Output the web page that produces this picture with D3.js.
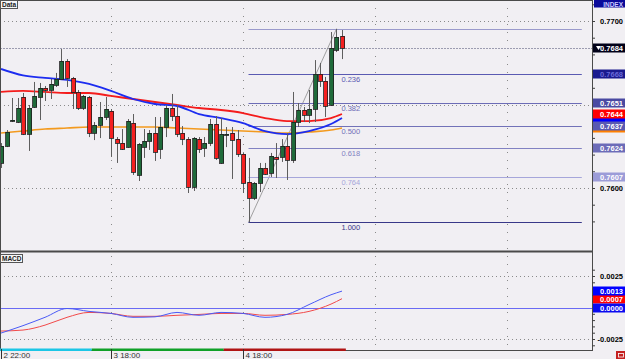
<!DOCTYPE html>
<meta charset="utf-8">
<style>
    body { margin: 0; background: #f1eff3; }
    svg { display: block; font-family: "Liberation Sans", Arial, sans-serif; }
    .wick { stroke: #5e5e5e; stroke-width: 1; }
    .body { stroke: #1e1e1e; stroke-width: 0.8; shape-rendering: crispEdges; }
    .grid { stroke: #8a8a8a; stroke-width: 1; }
    .axis path { display: none; }
    .axis line { stroke: #404040; }
    .axis text { font: bold 7.5px "Liberation Sans", Arial, sans-serif; fill: #000; }
    .tag text { font: bold 7.5px "Liberation Sans", Arial, sans-serif; }
    .fib text { font: 7.5px "Liberation Sans", Arial, sans-serif; }
    .time text { font: 8px "Liberation Sans", Arial, sans-serif; fill: #333; }
</style>

<body>
    <svg width="625" height="359"></svg>
    <script src="https://d3js.org/d3.v7.min.js"></script>
    <script>
        // hourly candles, index 0 = 2 22:00
        var openP = [0.76150, 0.76251, 0.76401, 0.76395, 0.76545, 0.76323, 0.76485, 0.76545, 0.76599, 0.76587,
            0.76617, 0.76653, 0.76760, 0.76659, 0.76575, 0.76479, 0.76545, 0.76329, 0.76377, 0.76425,
            0.76461, 0.76293, 0.76269, 0.76245, 0.76389, 0.76078, 0.76245, 0.76281, 0.76329, 0.76234,
            0.76365, 0.76479, 0.76431, 0.76329, 0.76293, 0.76006, 0.76293, 0.76240, 0.76269, 0.76383,
            0.76150, 0.76317, 0.76329, 0.76293, 0.76204, 0.76036, 0.75940, 0.76030, 0.76120, 0.76090,
            0.76186, 0.76186, 0.76251, 0.76168, 0.76395, 0.76467, 0.76437, 0.76473, 0.76683, 0.76641,
            0.76497, 0.76826, 0.76910];
        var highP = [0.76269, 0.76347, 0.76539, 0.76539, 0.76569, 0.76497, 0.76635, 0.76629, 0.76611, 0.76653,
            0.76689, 0.76832, 0.76772, 0.76665, 0.76587, 0.76557, 0.76551, 0.76395, 0.76515, 0.76545,
            0.76473, 0.76305, 0.76353, 0.76413, 0.76443, 0.76269, 0.76353, 0.76347, 0.76425, 0.76425,
            0.76497, 0.76563, 0.76497, 0.76371, 0.76305, 0.76305, 0.76305, 0.76305, 0.76413, 0.76431,
            0.76419, 0.76365, 0.76365, 0.76347, 0.76210, 0.76180, 0.76036, 0.76150, 0.76150, 0.76210,
            0.76269, 0.76293, 0.76329, 0.76575, 0.76509, 0.76485, 0.76587, 0.76766, 0.76749, 0.76665,
            0.76934, 0.76953, 0.76946];
        var lowP = [0.76120, 0.76245, 0.76395, 0.76389, 0.76317, 0.76222, 0.76479, 0.76407, 0.76521, 0.76533,
            0.76605, 0.76647, 0.76605, 0.76473, 0.76467, 0.76467, 0.76305, 0.76287, 0.76299, 0.76407,
            0.76186, 0.76150, 0.76228, 0.76240, 0.76078, 0.76042, 0.76180, 0.76228, 0.76162, 0.76174,
            0.76305, 0.76401, 0.76305, 0.76257, 0.75970, 0.75982, 0.76210, 0.76186, 0.76251, 0.76168,
            0.76144, 0.76245, 0.76054, 0.76186, 0.75970, 0.75795, 0.75928, 0.75976, 0.76078, 0.76066,
            0.76060, 0.76156, 0.76048, 0.76150, 0.76365, 0.76395, 0.76389, 0.76395, 0.76605, 0.76425,
            0.76491, 0.76814, 0.76772];
        var closeP = [0.76251, 0.76335, 0.76407, 0.76479, 0.76323, 0.76479, 0.76551, 0.76599, 0.76587, 0.76623,
            0.76653, 0.76760, 0.76659, 0.76575, 0.76479, 0.76551, 0.76329, 0.76377, 0.76425, 0.76473,
            0.76299, 0.76269, 0.76234, 0.76401, 0.76096, 0.76263, 0.76281, 0.76329, 0.76216, 0.76365,
            0.76479, 0.76431, 0.76323, 0.76293, 0.76006, 0.76299, 0.76234, 0.76269, 0.76383, 0.76180,
            0.76323, 0.76323, 0.76287, 0.76204, 0.76030, 0.75940, 0.76030, 0.76120, 0.76084, 0.76192,
            0.76174, 0.76251, 0.76168, 0.76395, 0.76467, 0.76437, 0.76473, 0.76683, 0.76641, 0.76491,
            0.76838, 0.76904, 0.76838];

        // moving averages read at every 4th candle
        var maIndex = [0, 4, 8, 12, 16, 20, 24, 28, 32, 36, 40, 44, 48, 52, 56, 60, 62];
        var maBlue = [0.76713, 0.76674, 0.76659, 0.76647, 0.76623, 0.76581, 0.76533, 0.76503, 0.76491, 0.76443,
            0.76419, 0.76389, 0.76341, 0.76323, 0.76341, 0.76383, 0.76419];
        var maRed = [0.76575, 0.76581, 0.76575, 0.76569, 0.76569, 0.76551, 0.76533, 0.76515, 0.76497, 0.76479,
            0.76467, 0.76449, 0.76419, 0.76401, 0.76401, 0.76419, 0.76443];
        var maOrange = [0.76329, 0.76341, 0.76353, 0.76359, 0.76365, 0.76365, 0.76365, 0.76365, 0.76359, 0.76353,
            0.76347, 0.76341, 0.76335, 0.76329, 0.76335, 0.76347, 0.76359];

        // MACD panel
        var macdMain = [-0.00203, -0.00144, -0.00078, -0.00008, -0.00031, -0.00047, -0.00078, -0.00074, -0.00039, -0.00062,
            -0.00039, -0.00047, -0.00078, -0.00055, 0.00023, 0.00101, 0.00130];
        var macdSignal = [-0.00187, -0.00179, -0.00140, -0.00078, -0.00039, -0.00047, -0.00070, -0.00070, -0.00062, -0.00055,
            -0.00047, -0.00047, -0.00062, -0.00055, -0.00031, 0.00027, 0.00070];

        // fibonacci retracement
        var fibLevels = [0, 0.236, 0.382, 0.5, 0.618, 0.764, 1];
        var fibLineColor = ["#9a9acc", "#5a5ab2", "#6c6cb6", "#7272b8", "#8282c2", "#a6a6da", "#383888"];
        var fibTagColor = [null, "#1a1a8e", "#4a4aa2", "#5a5ab2", "#6c6cb8", "#9c9cd8", null];
        var fibHigh = 0.76953, fibLow = 0.75795;
        var fibFrom = 45, fibHighAt = 61, fibTo = 105.6;

        // time axis
        var timeAt = [0, 20, 44];
        var timeLabels = ["2 22:00", "3 18:00", "4 18:00"];
        var gridAt = [20, 44, 68, 92];
        var sessionFrom = [-0.2, 16.5, 40.5];
        var sessionTo = [16.5, 40.5, 62.7];
        var sessionColor = ["#1cc6e6", "#10a028", "#b01414"];

        var svg = d3.select("svg"),
            plotRight = 592,
            mainTop = 1, mainBottom = 251,
            macdTop = 253, macdBottom = 349;

        var x = d3.scaleLinear().domain([0, 107]).range([1, 589.5]);
        var y = d3.scaleLinear().domain([0.7600, 0.7700]).range([188, 21]);
        var ym = d3.scaleLinear().domain([-0.0025, 0.0025]).range([339, 276]);
        var f4 = d3.format(".4f");
        function fmt(v) { return (v < 0 ? "-" : "") + f4(Math.abs(v)); }

        svg.append("rect").attr("width", 625).attr("height", 359).attr("fill", "#f1eff3");

        var defs = svg.append("defs");
        defs.append("clipPath").attr("id", "clipMain").append("rect")
            .attr("x", 1).attr("y", mainTop).attr("width", plotRight - 1).attr("height", mainBottom - mainTop);
        defs.append("clipPath").attr("id", "clipMacd").append("rect")
            .attr("x", 1).attr("y", macdTop).attr("width", plotRight - 1).attr("height", macdBottom - macdTop);

        var main = svg.append("g").attr("clip-path", "url(#clipMain)");
        var macd = svg.append("g").attr("clip-path", "url(#clipMacd)");

        // grids
        [main, macd].forEach(function (g) {
            g.selectAll(".vgrid").data(gridAt).enter().append("line")
                .attr("class", "grid vgrid")
                .attr("x1", function (d) { return Math.round(x(d)) + 0.5; })
                .attr("x2", function (d) { return Math.round(x(d)) + 0.5; })
                .attr("y1", 0).attr("y2", 359)
                .attr("stroke-dasharray", "1,7");
        });
        main.selectAll(".hgrid").data([0.7600, 0.7650, 0.7700]).enter().append("line")
            .attr("class", "grid hgrid")
            .attr("x1", 0).attr("x2", plotRight)
            .attr("y1", function (d) { return Math.round(y(d)) + 0.5; })
            .attr("y2", function (d) { return Math.round(y(d)) + 0.5; })
            .attr("stroke-dasharray", "1,3");
        macd.selectAll(".hgrid").data([-0.0025, 0.0025]).enter().append("line")
            .attr("class", "grid hgrid")
            .attr("x1", 0).attr("x2", plotRight)
            .attr("y1", function (d) { return Math.round(ym(d)) + 0.5; })
            .attr("y2", function (d) { return Math.round(ym(d)) + 0.5; })
            .attr("stroke-dasharray", "1,3");

        // current price line
        var last = closeP.length - 1;
        main.append("line")
            .attr("x1", 0).attr("x2", plotRight)
            .attr("y1", Math.round(y(closeP[last])) + 0.5).attr("y2", Math.round(y(closeP[last])) + 0.5)
            .attr("stroke", "#9c9cb0").attr("stroke-dasharray", "2,1");

        // fibonacci
        var fibPrice = function (lv) { return fibHigh - lv * (fibHigh - fibLow); };
        var fib = main.append("g").attr("class", "fib");
        fib.append("line")
            .attr("x1", x(fibFrom)).attr("y1", y(fibLow))
            .attr("x2", x(fibHighAt)).attr("y2", y(fibHigh))
            .attr("stroke", "#8c8c8c").attr("stroke-width", 0.8);
        fib.selectAll(".lvl").data(fibLevels).enter().append("line")
            .attr("x1", x(fibFrom)).attr("x2", x(fibTo))
            .attr("y1", function (d) { return Math.round(y(fibPrice(d))) + 0.5; })
            .attr("y2", function (d) { return Math.round(y(fibPrice(d))) + 0.5; })
            .attr("stroke", function (d, i) { return fibLineColor[i]; });
        fib.selectAll("text").data(fibLevels.slice(1)).enter().append("text")
            .attr("x", x(61.9))
            .attr("y", function (d) { return Math.round(y(fibPrice(d))) + 8; })
            .attr("fill", function (d, i) { return fibLineColor[i + 1]; })
            .text(function (d) { return d3.format(".3f")(d); });

        // moving averages
        var maLine = function (vals) {
            return d3.line().curve(d3.curveMonotoneX)
                .x(function (d, i) { return x(maIndex[i]); })
                .y(function (d) { return y(d); })(vals);
        };
        main.append("path").attr("d", maLine(maOrange)).attr("fill", "none")
            .attr("stroke", "#f39a1e").attr("stroke-width", 1.6);
        main.append("path").attr("d", maLine(maRed)).attr("fill", "none")
            .attr("stroke", "#f41c1c").attr("stroke-width", 1.8);
        main.append("path").attr("d", maLine(maBlue)).attr("fill", "none")
            .attr("stroke", "#1c2cf0").attr("stroke-width", 1.8);

        // candles
        var candles = d3.range(openP.length).map(function (i) {
            return { i: i, o: openP[i], h: highP[i], l: lowP[i], c: closeP[i] };
        });
        var cg = main.selectAll(".candle").data(candles).enter().append("g");
        cg.append("line").attr("class", "wick")
            .attr("x1", function (d) { return Math.round(x(d.i)) + 0.5; })
            .attr("x2", function (d) { return Math.round(x(d.i)) + 0.5; })
            .attr("y1", function (d) { return y(d.h); })
            .attr("y2", function (d) { return y(d.l); });
        cg.append("rect").attr("class", "body")
            .attr("x", function (d) { return Math.round(x(d.i)) - 1.5; })
            .attr("width", 4)
            .attr("y", function (d) { return Math.round(y(Math.max(d.o, d.c))); })
            .attr("height", function (d) { return Math.max(1, Math.round(Math.abs(y(d.o) - y(d.c)))); })
            .attr("fill", function (d) { return d.c >= d.o ? "#1f6a3a" : "#f42020"; });

        // MACD
        var macdLine = function (vals) {
            return d3.line().curve(d3.curveMonotoneX)
                .x(function (d, i) { return x(maIndex[i]); })
                .y(function (d) { return ym(d); })(vals);
        };
        macd.append("line").attr("x1", 0).attr("x2", plotRight)
            .attr("y1", Math.round(ym(0)) + 0.5).attr("y2", Math.round(ym(0)) + 0.5)
            .attr("stroke", "#6a6af4");
        macd.append("path").attr("d", macdLine(macdSignal)).attr("fill", "none")
            .attr("stroke", "#f24a4a").attr("stroke-width", 1);
        macd.append("path").attr("d", macdLine(macdMain)).attr("fill", "none")
            .attr("stroke", "#4a5af6").attr("stroke-width", 1);

        // frame
        var frame = svg.append("g").attr("stroke", "#4a4a4a").attr("fill", "none");
        frame.append("line").attr("x1", 0).attr("x2", plotRight).attr("y1", 0.5).attr("y2", 0.5);
        frame.append("line").attr("x1", 0.5).attr("x2", 0.5).attr("y1", 0).attr("y2", 350);
        frame.append("line").attr("x1", plotRight + 0.5).attr("x2", plotRight + 0.5).attr("y1", 0).attr("y2", 351);
        frame.append("line").attr("x1", 0).attr("x2", plotRight).attr("y1", 251.5).attr("y2", 251.5).attr("stroke-width", 2);
        frame.append("line").attr("x1", 0).attr("x2", plotRight).attr("y1", 350.5).attr("y2", 350.5);

        // session bar
        svg.selectAll(".session").data(sessionFrom).enter().append("rect")
            .attr("x", function (d) { return Math.max(0, x(d)); })
            .attr("width", function (d, i) { return x(sessionTo[i]) - Math.max(0, x(d)); })
            .attr("y", 348.5).attr("height", 2.5)
            .attr("fill", function (d, i) { return sessionColor[i]; });

        // time labels
        var time = svg.append("g").attr("class", "time");
        time.selectAll("line").data(timeAt).enter().append("line")
            .attr("x1", function (d) { return Math.round(x(d)) + 0.5; })
            .attr("x2", function (d) { return Math.round(x(d)) + 0.5; })
            .attr("y1", 349).attr("y2", 359).attr("stroke", "#333");
        time.selectAll("text").data(timeAt).enter().append("text")
            .attr("x", function (d) { return Math.round(x(d)) + 2.5; })
            .attr("y", 358)
            .text(function (d, i) { return timeLabels[i]; });

        // right axes
        var yAxis = d3.axisRight(y)
            .tickValues(d3.range(7580, 7711, 10).map(function (v) { return v / 10000; }))
            .tickSize(3)
            .tickFormat(function (d) { return Math.round(d * 10000) % 50 === 0 ? fmt(d) : ""; });
        var ya = svg.append("g").attr("class", "axis").attr("transform", "translate(" + plotRight + ",0)").call(yAxis);
        ya.selectAll("text").attr("x", 31).attr("text-anchor", "end");

        var mAxis = d3.axisRight(ym)
            .tickValues(d3.range(-30, 31, 5).map(function (v) { return v / 10000; }))
            .tickSize(3)
            .tickFormat(function (d) { return Math.abs(Math.round(d * 10000)) === 25 ? fmt(d) : ""; });
        var ma = svg.append("g").attr("class", "axis").attr("transform", "translate(" + plotRight + ",0)").call(mAxis);
        ma.selectAll("text").attr("x", 31).attr("text-anchor", "end");

        // value tags on the right axis (blue and orange MA tags sit behind others, no readable text)
        var tags = [
            { v: maBlue[maBlue.length - 1], fill: "#0000ff", s: y, hidden: true },
            { v: maOrange[maOrange.length - 1], fill: "#ff8000", s: y, hidden: true },
            { v: maRed[maRed.length - 1], fill: "#ff0000", text: "#fff", s: y }
        ];
        fibLevels.forEach(function (lv, i) {
            if (fibTagColor[i]) tags.push({ v: fibPrice(lv), fill: fibTagColor[i], text: i === 1 ? "#6a6ad8" : "#fff", s: y });
        });
        tags.push({ v: closeP[last], fill: "#000018", text: "#fff", s: y, arrow: true });
        tags.push({ v: macdSignal[macdSignal.length - 1], fill: "#ff0000", text: "#fff", s: ym });
        tags.push({ v: macdMain[macdMain.length - 1], fill: "#0000ff", text: "#fff", s: ym });
        tags.push({ v: 0, fill: "#0a0af0", text: "#fff", s: ym });

        var tg = svg.selectAll(".tag").data(tags).enter().append("g").attr("class", "tag")
            .attr("transform", function (d) { return "translate(" + (plotRight + 1) + "," + Math.round(d.s(d.v)) + ")"; });
        tg.append("rect").attr("x", 0).attr("y", -4.5).attr("width", 32).attr("height", 9)
            .attr("fill", function (d) { return d.fill; });
        tg.filter(function (d) { return !d.hidden; }).append("text")
            .attr("x", 30).attr("y", 3).attr("text-anchor", "end")
            .attr("fill", function (d) { return d.text; })
            .text(function (d) { return fmt(d.v); });
        tg.filter(function (d) { return d.arrow; }).append("path")
            .attr("d", "M3,-2L8,-2L5.5,2Z").attr("fill", "#fff");

        // INDEX tag
        var idx = svg.append("g").attr("class", "tag").attr("transform", "translate(" + (plotRight + 2) + ",0)");
        idx.append("rect").attr("width", 31).attr("height", 7.5).attr("fill", "#0a0a9a");
        idx.append("text").attr("x", 29).attr("y", 6.5).attr("text-anchor", "end").attr("fill", "#c8c8ff")
            .style("font-size", "6.5px").text("INDEX");

        // panel labels
        [["Data", 0, 17], ["MACD", 254, 22]].forEach(function (p) {
            var g = svg.append("g");
            g.append("rect").attr("x", 0.5).attr("y", p[1] + 0.5).attr("width", p[2]).attr("height", 8)
                .attr("fill", "#f6f6f6").attr("stroke", "#555");
            g.append("text").attr("x", 2).attr("y", p[1] + 7).style("font", "bold 6.5px 'Liberation Sans', Arial")
                .attr("fill", "#222").text(p[0]);
        });

        // small corner button
        svg.append("rect").attr("x", 616).attr("y", 351).attr("width", 9).attr("height", 8).attr("fill", "#c42020");
        svg.append("rect").attr("x", 618.5).attr("y", 353.5).attr("width", 5).attr("height", 3.5)
            .attr("fill", "none").attr("stroke", "#fff").attr("stroke-width", 0.8);
    </script>
</body>
